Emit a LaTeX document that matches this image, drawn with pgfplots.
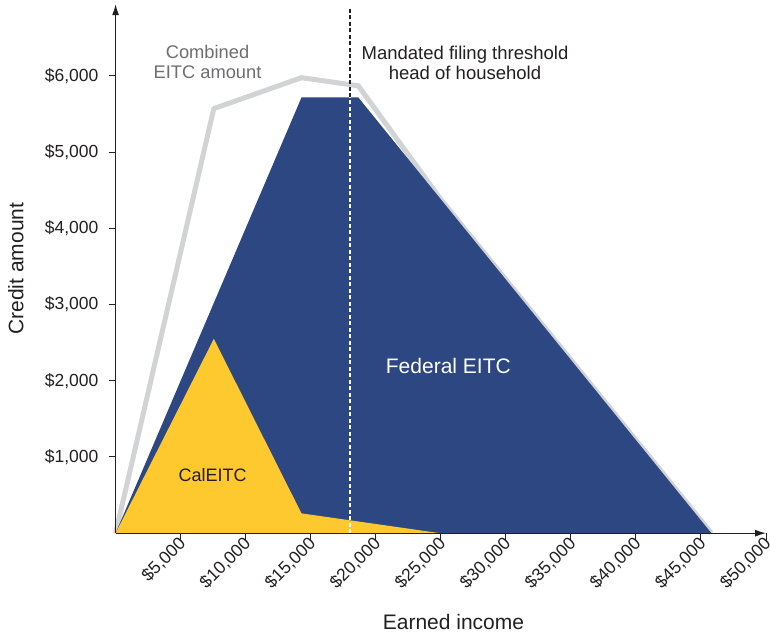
\documentclass[border=0pt]{standalone}
\usepackage{pgfplots}
\pgfplotsset{compat=1.18}
\usepackage{fontspec}
\setmainfont{Liberation Sans}
\usetikzlibrary{arrows.meta}

\definecolor{fedblue}{HTML}{2C4781}
\definecolor{calyellow}{HTML}{FEC82F}
\definecolor{combgray}{HTML}{D1D3D4}
\definecolor{labelgray}{HTML}{6D6E71}
\definecolor{ink}{HTML}{231F20}

\begin{document}
\begin{tikzpicture}
\begin{axis}[
  scale only axis,
  width=650.4pt, height=529pt,
  xmin=0, xmax=50000, ymin=0, ymax=6940,
  scaled ticks=false,
  axis lines=left,
  axis on top,
  clip=false,
  axis line style={ink, line width=1.2pt, -{Latex[length=11pt,width=7pt]}},
  tick align=outside,
  major tick length=7pt,
  tick style={ink, line width=1pt},
  xtick={5000,10000,15000,20000,25000,30000,35000,40000,45000,50000},
  xticklabels={{\$5,000},{\$10,000},{\$15,000},{\$20,000},{\$25,000},{\$30,000},{\$35,000},{\$40,000},{\$45,000},{\$50,000}},
  ytick={1000,2000,3000,4000,5000,6000},
  yticklabels={{\$1,000},{\$2,000},{\$3,000},{\$4,000},{\$5,000},{\$6,000}},
  tick label style={font=\fontsize{17.5}{20}\selectfont, text=ink},
  xticklabel style={rotate=45, anchor=east, inner sep=1pt, xshift=2pt, yshift=-2pt},
  yticklabel style={inner sep=2pt, xshift=-8pt},
  xlabel={Earned income},
  ylabel={Credit amount},
  label style={font=\fontsize{21}{24}\selectfont, text=ink},
  xlabel style={at={(axis description cs:0.5195,-0.168)}, anchor=center},
  ylabel style={at={(axis description cs:-0.1534,0.5)}, anchor=center, rotate=0},
]

% combined credit (federal + state), drawn underneath the areas
\addplot[draw=combgray, line width=5pt, line join=miter]
  coordinates {(0,0) (7550,5570) (14290,5976) (18660,5869) (24950,4391) (45802,0)};

% federal EITC
\addplot[fill=fedblue, draw=none]
  coordinates {(0,0) (14290,5716) (18660,5716) (45802,0)} -- cycle;

% CalEITC
\addplot[fill=calyellow, draw=none]
  coordinates {(0,0) (7550,2550) (14290,260) (24950,0)} -- cycle;

% filing threshold for head of household
\addplot[white, line width=2.3pt, dash pattern=on 4pt off 2.5pt]
  coordinates {(18000,0) (18000,5716)};
\addplot[ink, line width=2.3pt, dash pattern=on 4pt off 2.5pt]
  coordinates {(18000,5716) (18000,6900)};

\node[align=center, text=labelgray, font=\fontsize{18.3}{20}\selectfont]
  at (axis cs:7065,6184) {Combined\\EITC amount};
\node[align=center, text=ink, font=\fontsize{18.5}{20}\selectfont]
  at (axis cs:26860,6172) {Mandated filing threshold\\head of household};
\node[text=white, font=\fontsize{21}{24}\selectfont]
  at (axis cs:25580,2194) {Federal EITC};
\node[text=ink, font=\fontsize{18}{20}\selectfont]
  at (axis cs:7465,760) {CalEITC};
\end{axis}
\pgfresetboundingbox
\path[use as bounding box] (-115.6pt,-100.8pt) rectangle (654.4pt,533.2pt);
\end{tikzpicture}
\end{document}
